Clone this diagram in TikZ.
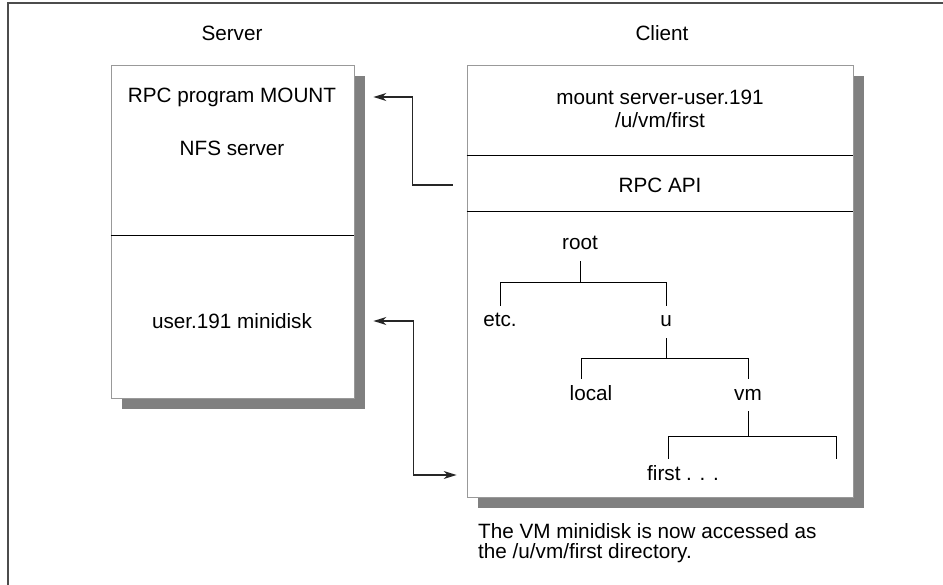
\documentclass[tikz,border=0pt]{standalone}
\usepackage{fontspec}
\setmainfont{Liberation Sans}
\usetikzlibrary{positioning,arrows.meta,calc,shadows}

\tikzset{
  panel/.style={draw=black!40, line width=0.8pt, fill=white, inner sep=0pt,
    drop shadow={shadow xshift=11pt, shadow yshift=-11pt, fill=black!50, opacity=1}},
  lbl/.style={font=\fontsize{20.7}{23}\selectfont, align=center, inner sep=0pt},
  treenode/.style={font=\fontsize{20.7}{23}\selectfont, inner xsep=2pt, inner ysep=6pt,
    text height=15pt, text depth=5pt},
  divider/.style={line width=1pt, black},
  treeline/.style={line width=1pt, black},
  tip/.tip={Stealth[length=13pt,width=8pt]},
  conn/.style={line width=1.3pt, black!85, -tip},
}

\begin{document}
\begin{tikzpicture}[x=1pt,y=-1pt]
	\useasboundingbox (0,0) rectangle (943,585);
	\draw[line width=2pt,black!70] (8,585) -- (8,3) -- (943,3);

	% titles
	\node[lbl] (servertitle) at (232,33) {Server};
	\node[lbl] (clienttitle) at (662,33) {Client};

	% server side
	\node[panel, minimum width=243pt, minimum height=333pt] (srv) at (232.5,231.5) {};
	\draw[divider] ([yshift=-171pt]srv.north west) -- ([yshift=-171pt]srv.north east);
	\node[lbl] (rpcmount) at (232,97) {RPC program MOUNT};
	\node[lbl] (nfs) at (232,148) {NFS server};
	\node[lbl] (minidisk) at (232,321) {user.191 minidisk};

	% client side
	\node[panel, minimum width=386pt, minimum height=432pt] (cli) at (660,281) {};
	\draw[divider] ([yshift=-91pt]cli.north west) -- ([yshift=-91pt]cli.north east);
	\draw[divider] ([yshift=-147pt]cli.north west) -- ([yshift=-147pt]cli.north east);
	\node[lbl] (mount) at (660,108.5) {mount server-user.191\\/u/vm/first};
	\node[lbl] (rpcapi) at (660,185) {RPC API};

	% directory tree
	\node[treenode] (root) at (580,245) {root};
	\node[treenode] (etc) at (500,322) {etc.};
	\node[treenode] (u) at (666,322) {u};
	\node[treenode] (local) at (591,395) {local};
	\node[treenode] (vm) at (748,395) {vm};
	\node[treenode] (first) at (683,475) {first . . .};
	\coordinate (more) at (836,459);

	\draw[treeline] (root.south) -- ++(0,21) coordinate (rootbar);
	\draw[treeline] (etc.north) |- (rootbar) -| (u.north);
	\draw[treeline] (u.south) -- ++(0,20) coordinate (ubar);
	\draw[treeline] ([xshift=-10pt]local.north) |- (ubar) -| (vm.north);
	\draw[treeline] (vm.south) -- ++(0,25) coordinate (vmbar);
	\draw[treeline] ([xshift=-15pt]first.north) |- (vmbar) -| (more);

	% connectors
	\coordinate (apiport) at ($(cli.west |- rpcapi)+(-14,0)$);
	\coordinate (mountport) at ($(srv.east |- rpcmount)+(19,0)$);
	\coordinate (diskport) at ($(srv.east |- minidisk)+(19,0)$);
	\coordinate (treeport) at ($(cli.west |- first)+(-10,0)$);
	\draw[conn] (apiport) -- ++(-40,0) |- (mountport);
	\draw[conn, tip-tip] (diskport) -- ++(40,0) |- (treeport);

	\node[lbl, align=left, anchor=west, font=\fontsize{20.7}{20}\selectfont] (note) at (478,543)
		{The VM minidisk is now accessed as\\the /u/vm/first directory.};
\end{tikzpicture}
\end{document}
